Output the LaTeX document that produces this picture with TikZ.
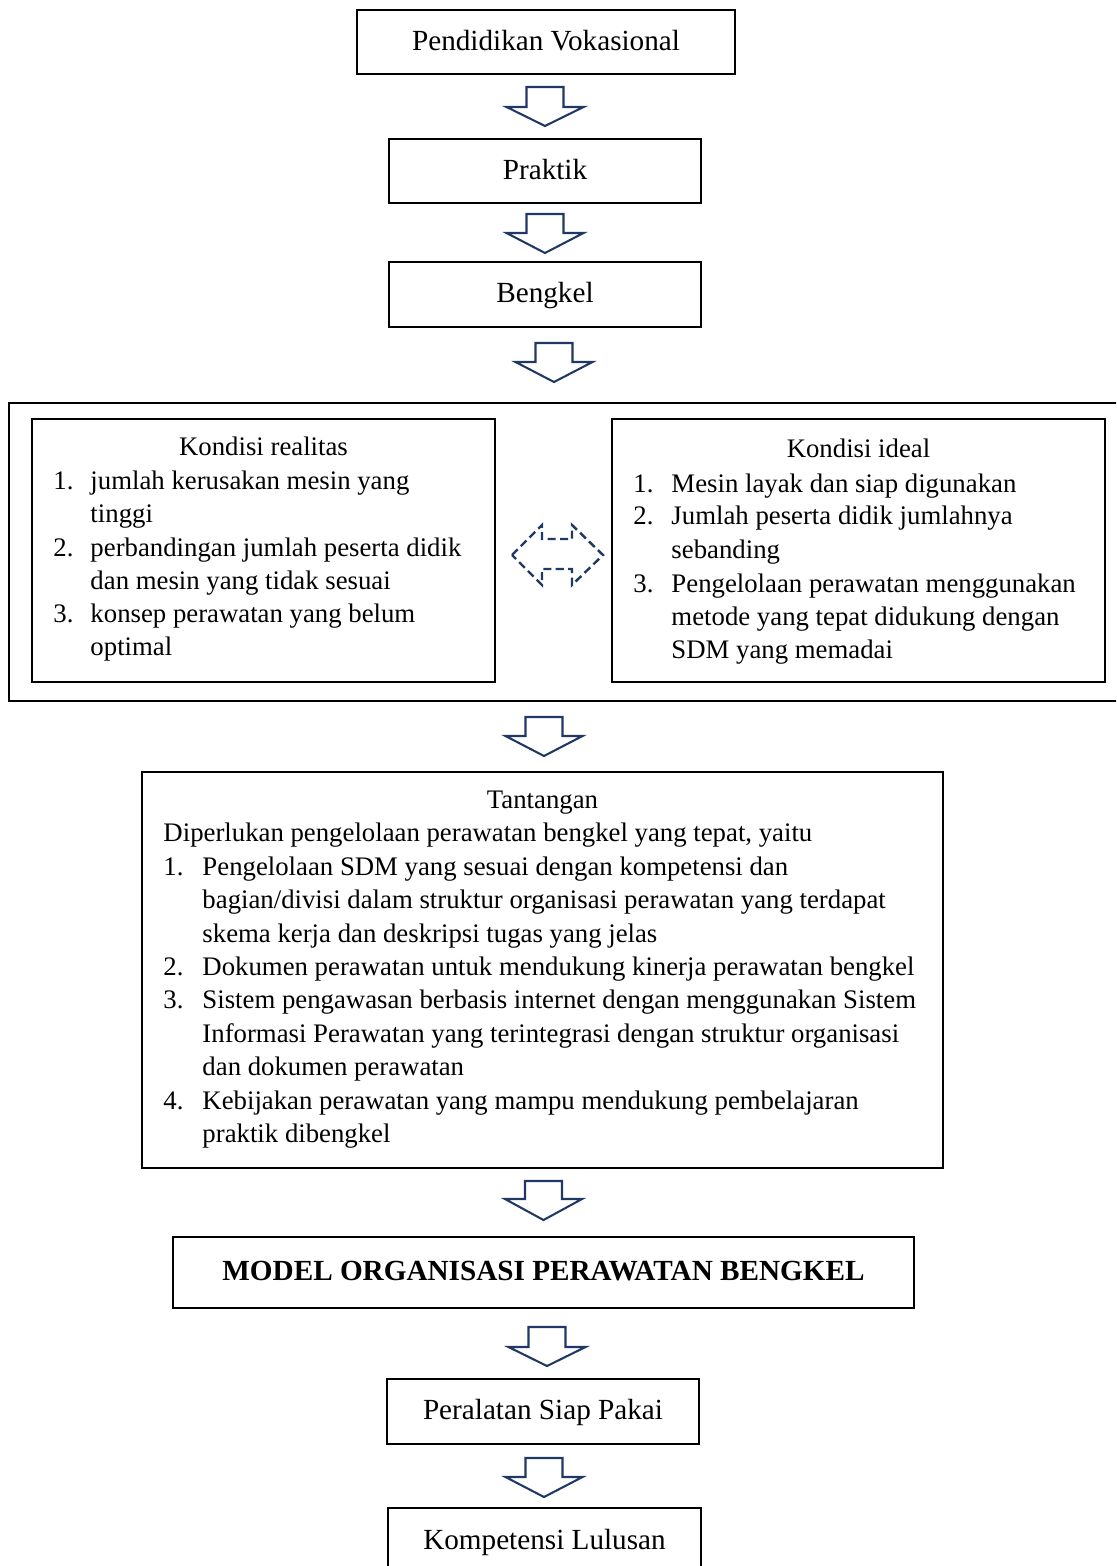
\documentclass[tikz,border=0pt]{standalone}
\usepackage{fontspec}
\setmainfont{Liberation Serif}
\newdimen\pxu \pxu=0.411pt
\definecolor{navy}{RGB}{32,56,100}
\tikzset{
 box/.style={draw=black, line width=1.15pt, inner sep=0pt, text height=8.6pt, text depth=2pt, font=\fontsize{12}{14}\selectfont},
 panel/.style={draw=black, line width=1.15pt, inner sep=0pt},
 blockarrow/.style={draw=navy, line width=0.85pt, fill=white, line join=miter},
 dasharrow/.style={draw=navy, line width=1pt, dash pattern=on 3.3pt off 1.8pt},
 ltxt/.style={anchor=base west, inner sep=0pt, font=\fontsize{11}{13.7}\selectfont},
 ctxt/.style={anchor=base, inner sep=0pt, font=\fontsize{11}{13.7}\selectfont},
}
\newcommand\barrow[4]{\draw[blockarrow] ({#1-18.5},#2) -- ({#1+18.5},#2) -- ({#1+18.5},#3) -- ({#1+38.5},#3) -- (#1,#4) -- ({#1-38.5},#3) -- ({#1-18.5},#3) -- cycle;}
\begin{document}
\begin{tikzpicture}[x=0.411pt,y=-0.411pt]
\useasboundingbox (0,0) rectangle (1116,1566);
\clip (0,0) rectangle (1116,1566);
\fill[white] (0,0) rectangle (1116,1566);

% top chain
\node[box, minimum width=378\pxu, minimum height=64\pxu] (pv) at (546,42) {Pendidikan Vokasional};
\node[box, minimum width=312\pxu, minimum height=64\pxu] (pr) at (545,171) {Praktik};
\node[box, minimum width=312\pxu, minimum height=65\pxu] (bk) at (545,294.5) {Bengkel};

\barrow{545}{87}{107}{126}
\barrow{545}{214}{233}{253}
\barrow{554}{343}{362}{382}

% conditions panel
\node[panel, minimum width=1112\pxu, minimum height=298\pxu] (outer) at (565,552) {};
\node[panel, minimum width=463\pxu, minimum height=263\pxu] (real) at (263.5,550.5) {};
\node[panel, minimum width=493\pxu, minimum height=263\pxu] (ideal) at (858.5,550.5) {};

\node[ctxt] (realt) at (263.5,456) {Kondisi realitas};
\node[ltxt] (rn1) at (53,489) {1.};
\node[ltxt] (rl1) at (90,489) {jumlah kerusakan mesin yang};
\node[ltxt] (rl2) at (90,522) {tinggi};
\node[ltxt] (rn2) at (53,556) {2.};
\node[ltxt] (rl3) at (90,556) {perbandingan jumlah peserta didik};
\node[ltxt] (rl4) at (90,589) {dan mesin yang tidak sesuai};
\node[ltxt] (rn3) at (53,622) {3.};
\node[ltxt] (rl5) at (90,622) {konsep perawatan yang belum};
\node[ltxt] (rl6) at (90,655) {optimal};

\node[ctxt] (idealt) at (858.5,458) {Kondisi ideal};
\node[ltxt] (in1) at (633,492) {1.};
\node[ltxt] (il1) at (671,492) {Mesin layak dan siap digunakan};
\node[ltxt] (in2) at (633,525) {2.};
\node[ltxt] (il2) at (671,525) {Jumlah peserta didik jumlahnya};
\node[ltxt] (il3) at (671,558) {sebanding};
\node[ltxt] (in3) at (633,592) {3.};
\node[ltxt] (il4) at (671,592) {Pengelolaan perawatan menggunakan};
\node[ltxt] (il5) at (671,625) {metode yang tepat didukung dengan};
\node[ltxt] (il6) at (671,658) {SDM yang memadai};

\draw[dasharrow] (512,555) -- (542,525) -- (542,539) -- (572,539) -- (572,525) -- (603,555) -- (572,585) -- (572,569) -- (542,569) -- (542,585) -- cycle;

\barrow{544}{717}{736}{756}

% challenge box
\node[panel, minimum width=801\pxu, minimum height=396\pxu] (tan) at (542.5,970) {};
\node[ctxt] (tant) at (542.5,808) {Tantangan};
\node[ltxt] (tl0) at (163,841) {Diperlukan pengelolaan perawatan bengkel yang tepat, yaitu};
\node[ltxt] (tn1) at (163,875) {1.};
\node[ltxt] (tl1) at (202,875) {Pengelolaan SDM yang sesuai dengan kompetensi dan};
\node[ltxt] (tl2) at (202,908) {bagian/divisi dalam struktur organisasi perawatan yang terdapat};
\node[ltxt] (tl3) at (202,942) {skema kerja dan deskripsi tugas yang jelas};
\node[ltxt] (tn2) at (163,975) {2.};
\node[ltxt] (tl4) at (202,975) {Dokumen perawatan untuk mendukung kinerja perawatan bengkel};
\node[ltxt] (tn3) at (163,1008) {3.};
\node[ltxt] (tl5) at (202,1008) {Sistem pengawasan berbasis internet dengan menggunakan Sistem};
\node[ltxt] (tl6) at (202,1042) {Informasi Perawatan yang terintegrasi dengan struktur organisasi};
\node[ltxt] (tl7) at (202,1075) {dan dokumen perawatan};
\node[ltxt] (tn4) at (163,1109) {4.};
\node[ltxt] (tl8) at (202,1109) {Kebijakan perawatan yang mampu mendukung pembelajaran};
\node[ltxt] (tl9) at (202,1142) {praktik dibengkel};

\barrow{543.5}{1181}{1199}{1220}

% bottom chain
\node[box, minimum width=741\pxu, minimum height=71\pxu, font=\fontsize{12}{14}\selectfont\bfseries] (model) at (543.5,1272.5) {MODEL ORGANISASI PERAWATAN BENGKEL};
\barrow{547}{1327}{1347}{1366}
\node[box, minimum width=312\pxu, minimum height=65\pxu] (alat) at (543,1411.5) {Peralatan Siap Pakai};
\barrow{544}{1458}{1477}{1497}
\node[box, minimum width=313\pxu, minimum height=66\pxu] (komp) at (544.5,1541) {Kompetensi Lulusan};
\end{tikzpicture}
\end{document}
